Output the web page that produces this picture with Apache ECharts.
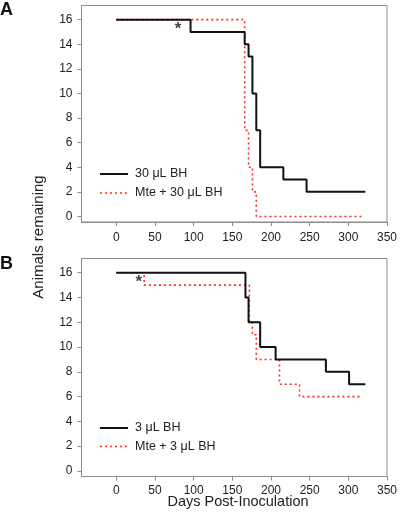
<!DOCTYPE html>
<html><head><meta charset="utf-8">
<script src="https://cdn.jsdelivr.net/npm/echarts@6/dist/echarts.min.js"></script>
<style>html,body{margin:0;padding:0;background:#fff}#c{width:400px;height:519px}</style>
</head><body><div id="c"></div>
<script>
// Panel A data
var aBlackDays = [0, 96, 166, 171, 176, 181, 186, 216, 246, 322];
var aBlackVals = [16, 15, 14, 13, 10, 7, 4, 3, 2, 2];
var aRedDays = [0, 166, 171, 176, 181, 317];
var aRedVals = [16, 7, 4, 2, 0, 0];
var aStar = [80, 15.25];
// Panel B data
var bBlackDays = [0, 167, 171, 186, 206, 271, 301, 322];
var bBlackVals = [16, 14, 12, 10, 9, 8, 7, 7];
var bRedDays = [0, 36, 172, 176, 181, 211, 237, 317];
var bRedVals = [16, 15, 12, 11, 9, 7, 6, 6];
var bStar = [29, 15.2];
// Ticks / labels
var xTicks = [0, 50, 100, 150, 200, 250, 300, 350];
var yTicks = [0, 2, 4, 6, 8, 10, 12, 14, 16];
var seriesNamesA = ['30 μL BH', 'Mte + 30 μL BH'];
var seriesNamesB = ['3 μL BH', 'Mte + 3 μL BH'];

function pairs(xs, ys) { return xs.map(function (x, i) { return [x, ys[i]]; }); }

var FONT = 'Liberation Sans, Arial, sans-serif';
var GREY = '#8c8c8c';
var BLACK = '#111';
var RED = '#ff2a2a';
function xAx(idx, margin) {
  return {
    type: 'value', gridIndex: idx, min: -45, max: 350,
    axisLine: { show: true, onZero: false, lineStyle: { color: GREY, width: 1 } },
    axisTick: { show: true, length: 4, lineStyle: { color: GREY }, customValues: xTicks },
    axisLabel: { customValues: xTicks, margin: margin, color: '#222', fontSize: 12, fontFamily: FONT },
    splitLine: { show: false }
  };
}
function yAx(idx) {
  return {
    type: 'value', gridIndex: idx, min: -0.45, max: 17.15,
    axisLine: { show: true, onZero: false, lineStyle: { color: GREY, width: 1 } },
    axisTick: { show: true, length: 4, lineStyle: { color: GREY }, customValues: yTicks },
    axisLabel: { customValues: yTicks, margin: 9, color: '#222', fontSize: 12, fontFamily: FONT },
    splitLine: { show: false }
  };
}
function blackLine(name, idx, data) {
  return { name: name, type: 'line', xAxisIndex: idx, yAxisIndex: idx, step: 'end', symbol: 'none',
    data: data, lineStyle: { color: BLACK, width: 2, type: 'solid' }, itemStyle: { color: BLACK },
    animation: false, z: 3 };
}
function redLine(name, idx, data) {
  return { name: name, type: 'line', xAxisIndex: idx, yAxisIndex: idx, step: 'end', symbol: 'none',
    data: data, lineStyle: { color: RED, width: 1.6, type: [2, 3] }, itemStyle: { color: RED },
    animation: false, z: 2 };
}
function star(idx, p) {
  return { type: 'scatter', xAxisIndex: idx, yAxisIndex: idx, symbolSize: 0, data: [p], silent: true,
    label: { show: true, formatter: '*', position: 'inside', color: BLACK, fontSize: 17, fontWeight: 'bold', fontFamily: FONT },
    animation: false };
}
function legendItems(names, y0, gap) {
  var out = [];
  out.push({ type: 'line', shape: { x1: 100, y1: y0, x2: 128, y2: y0 }, style: { stroke: BLACK, lineWidth: 2 } });
  out.push({ type: 'text', x: 135, y: y0, style: { text: names[0], font: '12.5px ' + FONT, fill: '#222', verticalAlign: 'middle' } });
  out.push({ type: 'line', shape: { x1: 100, y1: y0 + gap, x2: 128, y2: y0 + gap }, style: { stroke: RED, lineWidth: 1.6, lineDash: [2, 3] } });
  out.push({ type: 'text', x: 135, y: y0 + gap, style: { text: names[1], font: '12.5px ' + FONT, fill: '#222', verticalAlign: 'middle' } });
  return out;
}

var chart = echarts.init(document.getElementById('c'), null, { renderer: 'canvas' });
chart.setOption({
  animation: false,
  backgroundColor: '#fff',
  grid: [
    { left: 81.5, right: 10.5, top: 5.5, height: 216.5, show: true, borderColor: GREY, borderWidth: 1 },
    { left: 81.5, right: 10.5, top: 258.5, height: 218, show: true, borderColor: GREY, borderWidth: 1 }
  ],
  xAxis: [xAx(0, 10), xAx(1, 8)],
  yAxis: [yAx(0), yAx(1)],
  graphic: [
    { type: 'text', left: 0, top: 1, style: { text: 'A', font: 'bold 18px ' + FONT, fill: BLACK } },
    { type: 'text', left: 0, top: 255, style: { text: 'B', font: 'bold 18px ' + FONT, fill: BLACK } },
    { type: 'text', x: 39, y: 237, rotation: Math.PI / 2,
      style: { text: 'Animals remaining', font: '15px ' + FONT, fill: '#222', align: 'center', verticalAlign: 'middle' } },
    { type: 'text', x: 238, y: 502,
      style: { text: 'Days Post-Inoculation', font: '14.5px ' + FONT, fill: '#222', align: 'center', verticalAlign: 'middle' } }
  ].concat(legendItems(seriesNamesA, 174, 19)).concat(legendItems(seriesNamesB, 428, 18.5)),
  series: [
    blackLine(seriesNamesA[0], 0, pairs(aBlackDays, aBlackVals)),
    redLine(seriesNamesA[1], 0, pairs(aRedDays, aRedVals)),
    star(0, aStar),
    blackLine(seriesNamesB[0], 1, pairs(bBlackDays, bBlackVals)),
    redLine(seriesNamesB[1], 1, pairs(bRedDays, bRedVals)),
    star(1, bStar)
  ]
});
</script></body></html>
